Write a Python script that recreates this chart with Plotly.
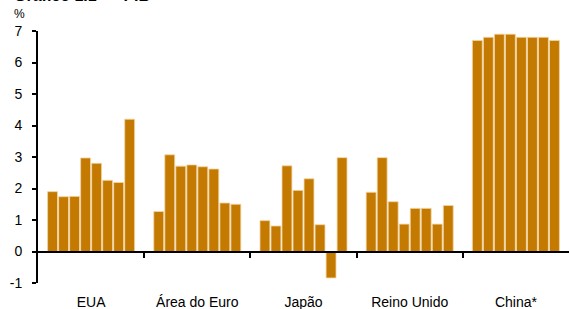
import plotly.graph_objects as go

categories = ["EUA", "Área do Euro", "Japão", "Reino Unido", "China*"]

eua = [1.9, 1.74, 1.75, 2.97, 2.8, 2.26, 2.19, 4.2]
area_euro = [1.27, 3.07, 2.71, 2.75, 2.69, 2.62, 1.54, 1.5]
japao = [0.98, 0.81, 2.72, 1.94, 2.31, 0.85, -0.84, 2.98]
reino_unido = [1.88, 2.98, 1.58, 0.87, 1.37, 1.37, 0.87, 1.46]
china = [6.7, 6.8, 6.9, 6.9, 6.8, 6.8, 6.8, 6.7]

series_by_country = [eua, area_euro, japao, reino_unido, china]
n_periods = 8

y_ticks = [-1, 0, 1, 2, 3, 4, 5, 6, 7]
y_tick_labels = ["-1", "0", "1", "2", "3", "4", "5", "6", "7"]
boundaries = [0.5, 1.5, 2.5, 3.5]

BAR = "#C47A00"
EDGE = "#F2D6A6"

fig = go.Figure()
for i in range(n_periods):
    fig.add_trace(go.Bar(
        x=categories,
        y=[vals[i] for vals in series_by_country],
        marker=dict(color=BAR, line=dict(color=EDGE, width=0.8)),
        showlegend=False,
        hoverinfo="skip",
    ))

W, H = 571, 309
ml, mr, mt, mb = 38, 2, 31, 26
plot_h = H - mt - mb
plot_w = W - ml - mr

fig.update_layout(
    width=W, height=H,
    margin=dict(l=ml, r=mr, t=mt, b=mb, pad=0, autoexpand=False),
    paper_bgcolor="white", plot_bgcolor="white",
    barmode="group", bargap=0.17, bargroupgap=0.1,
    font=dict(family="Liberation Sans, Arial, sans-serif", color="black"),
    xaxis=dict(
        type="category", range=[-0.5, 4.5], showline=False, showgrid=False,
        zeroline=False, ticks="", tickfont=dict(size=14),
        ticklabelstandoff=9, automargin=False,
    ),
    xaxis2=dict(
        overlaying="x", anchor="free", position=1 / 8, side="bottom",
        range=[-0.5, 4.5], showline=True, linecolor="black", linewidth=2,
        ticks="outside", ticklen=5, tickwidth=2, tickcolor="black",
        tickvals=boundaries, showticklabels=False, showgrid=False,
        zeroline=False, automargin=False,
    ),
    yaxis=dict(
        range=[-1, 7], tickvals=y_ticks, ticktext=y_tick_labels,
        showline=True, linecolor="black",
        linewidth=2, ticks="outside", ticklen=4, tickwidth=2, tickcolor="black",
        showgrid=False, zeroline=False, tickfont=dict(size=14),
        ticklabelstandoff=7, automargin=False,
    ),
)

# empty trace so the boundary-tick axis is registered
fig.add_trace(go.Scatter(x=[], y=[], xaxis="x2", yaxis="y", showlegend=False))

fig.add_annotation(
    text="%", xref="paper", yref="paper", x=(12 - ml) / plot_w, xanchor="left",
    y=1 + (mt - 14) / plot_h, yanchor="middle", showarrow=False,
    font=dict(size=12),
)
fig.add_annotation(
    text="<b>Gráfico 1.1\u00a0\u00a0–\u00a0\u00a0PIB</b>", xref="paper", yref="paper",
    x=(12 - ml) / plot_w, xanchor="left",
    y=1 + (mt - (-5)) / plot_h, yanchor="middle", showarrow=False,
    font=dict(size=16),
)

fig.write_html(
    "out.html",
    config={"displayModeBar": False},
    post_script="document.body.style.margin='0';",
)
